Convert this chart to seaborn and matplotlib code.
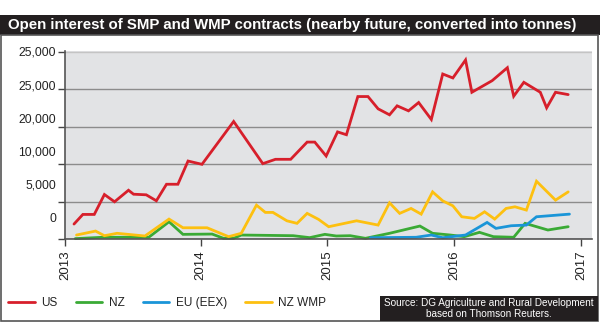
import numpy as np
import pandas as pd
import matplotlib
matplotlib.use("Agg")
import matplotlib.pyplot as plt
import seaborn as sns
from matplotlib.patches import Rectangle

# ---- data (decimal years, tonnes) ----
us_x = [2013.00, 2013.07, 2013.16, 2013.24, 2013.32, 2013.43, 2013.47, 2013.57, 2013.65,
        2013.73, 2013.82, 2013.90, 2014.01, 2014.26, 2014.49, 2014.59, 2014.71, 2014.84,
        2014.90, 2014.99, 2015.08, 2015.15, 2015.24, 2015.32, 2015.40, 2015.49, 2015.55,
        2015.64, 2015.72, 2015.82, 2015.91, 2015.99, 2016.09, 2016.14, 2016.30, 2016.42,
        2016.47, 2016.55, 2016.68, 2016.73, 2016.80, 2016.90]
us_y = [1995, 3280, 3280, 5940, 4970, 6510, 5980, 5900, 5100,
        7310, 7310, 10410, 9970, 15690, 10060, 10640, 10640, 12940,
        12940, 11080, 14300, 13920, 19020, 19020, 17380, 16580, 17780,
        17110, 18220, 15960, 22030, 21500, 23900, 19590, 21140, 22870,
        19060, 20920, 19590, 17510, 19590, 19280]

nz_x = [2013.01, 2013.23, 2013.59, 2013.75, 2013.86, 2014.09, 2014.18, 2014.26, 2014.32,
        2014.73, 2014.86, 2014.98, 2015.07, 2015.18, 2015.30, 2015.49, 2015.73, 2015.83,
        2015.97, 2016.08, 2016.20, 2016.31, 2016.47, 2016.56, 2016.74, 2016.90]
nz_y = [50, 230, 230, 2300, 620, 660, 90, 90, 530,
        440, 180, 620, 400, 440, 90, 760, 1730, 760,
        530, 310, 890, 310, 230, 2090, 1200, 1640]

eu_x = [2015.34, 2015.70, 2015.82, 2015.91, 2016.09, 2016.26, 2016.33, 2016.45, 2016.57,
        2016.65, 2016.91]
eu_y = [170, 230, 530, 170, 530, 2210, 1420, 1770, 1860, 2970, 3320]

wmp_x = [2013.02, 2013.17, 2013.24, 2013.34, 2013.56, 2013.75, 2013.86, 2014.05, 2014.22,
         2014.32, 2014.44, 2014.51, 2014.57, 2014.68, 2014.76, 2014.84, 2014.93, 2015.01,
         2015.23, 2015.40, 2015.49, 2015.57, 2015.66, 2015.74, 2015.83, 2015.91, 2015.99,
         2016.06, 2016.16, 2016.24, 2016.32, 2016.41, 2016.48, 2016.57, 2016.65, 2016.80,
         2016.90]
wmp_y = [530, 1060, 440, 760, 400, 2660, 1500, 1500, 310,
         760, 4520, 3550, 3550, 2430, 2090, 3420, 2620, 1640,
         2430, 1860, 4830, 3420, 4080, 3320, 6290, 5090, 4430,
         2970, 2750, 3630, 2660, 4080, 4300, 3860, 7710, 5190,
         6290]

series_names = ["US", "NZ", "EU (EEX)", "NZ WMP"]
series_colors = ["#d71f2b", "#3aaa35", "#1a95d8", "#fdc010"]
x_tick_labels = ["2013", "2014", "2015", "2016", "2017"]
y_tick_labels = ["0", "5,000", "10,000", "20,000", "25,000", "25,000"]
title = "Open interest of SMP and WMP contracts (nearby future, converted into tonnes)"
source = "Source: DG Agriculture and Rural Development\nbased on Thomson Reuters."

frames = []
for name, xs, ys in zip(series_names, [us_x, nz_x, eu_x, wmp_x], [us_y, nz_y, eu_y, wmp_y]):
    frames.append(pd.DataFrame({"date": xs, "tonnes": ys, "series": name}))
df = pd.concat(frames, ignore_index=True)

# ---- style ----
sns.set_theme(style="white")
plt.rcParams["font.family"] = ["Liberation Sans", "DejaVu Sans"]

W, H = 600, 325
fig = plt.figure(figsize=(W / 100, H / 100), dpi=100)
fig.patch.set_facecolor("white")

ax = fig.add_axes([65 / W, 1 - 239 / H, 527 / W, 188 / H])
ax.set_facecolor("#e2e3e5")

sns.lineplot(data=df, x="date", y="tonnes", hue="series", hue_order=series_names,
             palette=series_colors, linewidth=2.0, estimator=None, ax=ax)

x_left = 2012.929
ax.set_xlim(x_left, 2017.088)
ax.set_ylim(0, 25000)

# x ticks
ax.set_xticks([x_left, 2014, 2015, 2016, 2017])
ax.set_xticklabels(x_tick_labels, rotation=90, fontsize=9.5, color="#222222")
ax.tick_params(axis="x", which="major", direction="out", length=5, width=1.0,
               color="#444444", pad=3, bottom=True)

# y ticks: gridline ticks without labels, labels on separate minor ticks
ax.set_yticks(np.arange(0, 25001, 5000))
ax.set_yticklabels([])
ax.set_yticks([2900, 7300, 11700, 16200, 20600, 25100], minor=True)
ax.set_yticklabels(y_tick_labels, minor=True, fontsize=8.7, color="#222222")
ax.tick_params(axis="y", which="major", direction="out", length=5, width=1.0,
               color="#444444", left=True)
ax.tick_params(axis="y", which="minor", length=0, pad=6.5, left=True)

ax.yaxis.grid(True, which="major", color="#8c8c8c", linewidth=1.0)
ax.get_ygridlines()[-1].set_color("#c4c4c4")
ax.xaxis.grid(False)
ax.set_axisbelow(True)

for s in ["top", "right"]:
    ax.spines[s].set_visible(False)
for s in ["left", "bottom"]:
    ax.spines[s].set_color("#555555")
    ax.spines[s].set_linewidth(1.2)

for line in ax.get_lines():
    line.set_clip_on(False)
    line.set_solid_joinstyle("miter")

ax.set_xlabel("")
ax.set_ylabel("")

# legend at figure bottom
handles, labels = ax.get_legend_handles_labels()
if ax.get_legend() is not None:
    ax.get_legend().remove()
leg = fig.legend(handles, labels, loc="center left", bbox_to_anchor=(8 / W, 1 - 303 / H),
                 ncol=4, frameon=False, fontsize=8.5, handlelength=2.25,
                 handletextpad=0.55, columnspacing=1.55, borderpad=0, borderaxespad=0)
for h in leg.legend_handles:
    h.set_linewidth(2.0)
for t in leg.get_texts():
    t.set_color("#222222")

# title bar
fig.patches.append(Rectangle((0, 1 - 35 / H), 1, 20 / H, transform=fig.transFigure,
                             facecolor="#231f20", edgecolor="none", zorder=0))
fig.text(8 / W, 1 - 25.5 / H, title, color="white", fontweight="bold", fontsize=10.8,
         va="center", ha="left")

# outer frame
fig.patches.append(Rectangle((0.5 / W, 1 - 321 / H), 597 / W, (321 - 35) / H,
                             transform=fig.transFigure, fill=False,
                             edgecolor="#555555", linewidth=1.2, zorder=0))

# source box
fig.patches.append(Rectangle((380 / W, 1 - 321 / H), 218 / W, 25.5 / H,
                             transform=fig.transFigure, facecolor="#231f20",
                             edgecolor="none", zorder=1))
fig.text(489 / W, 1 - 308.5 / H, source, color="white", fontsize=7.2, ha="center",
         va="center", linespacing=1.05)

fig.savefig("out.png", dpi=100)
